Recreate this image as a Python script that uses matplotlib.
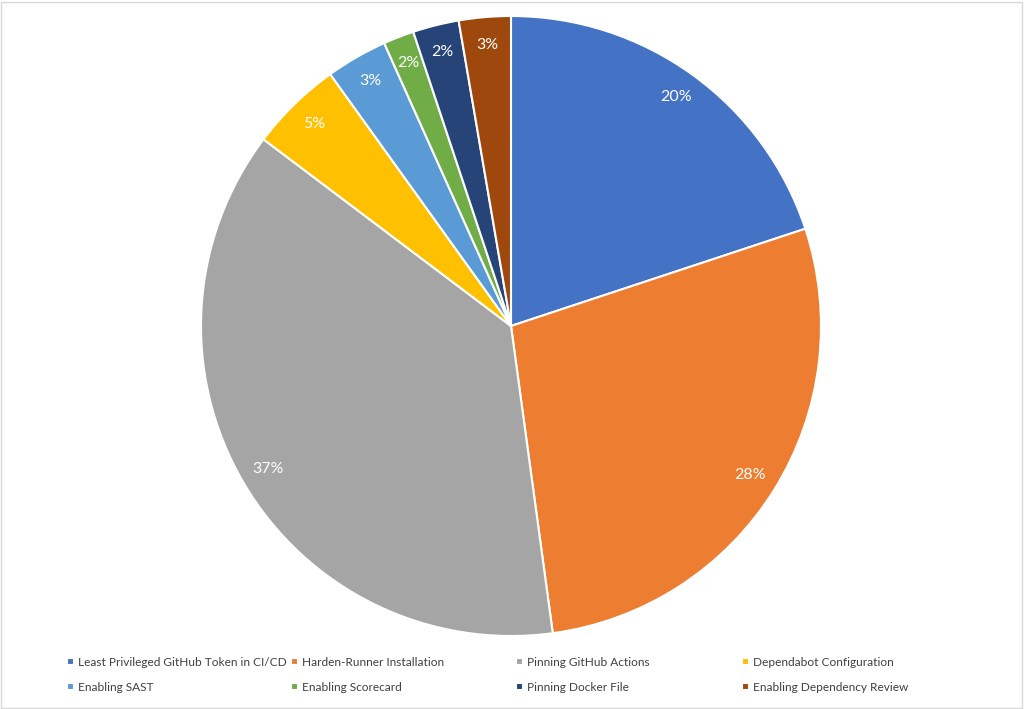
import matplotlib.pyplot as plt
from matplotlib.patches import Rectangle

# Data (share of each fix type)
labels = ['Least Privileged GitHub Token in CI/CD', 'Harden-Runner Installation',
          'Pinning GitHub Actions', 'Dependabot Configuration',
          'Enabling SAST', 'Enabling Scorecard', 'Pinning Docker File',
          'Enabling Dependency Review']
values = [19.9, 27.9, 37.4, 4.8, 3.2, 1.6, 2.4, 2.7]
colors = ['#4472C4', '#ED7D31', '#A5A5A5', '#FFC000',
          '#5B9BD5', '#70AD47', '#264478', '#9E480E']

plt.rcParams['font.family'] = ['Lato', 'DejaVu Sans']

W, H = 1024, 709
fig = plt.figure(figsize=(W / 100, H / 100), dpi=100)
fig.patch.set_facecolor('white')

# pie area: centre (511, 326) px, radius 310 px
cx, cy, r = 511, 326, 310
ax = fig.add_axes([(cx - r) / W, (H - cy - r) / H, 2 * r / W, 2 * r / H])
wedges, texts, autotexts = ax.pie(
    values, colors=colors, startangle=90, counterclock=False,
    autopct='%1.0f%%', pctdistance=0.91,
    wedgeprops=dict(edgecolor='white', linewidth=1.5),
    textprops=dict(color='white', fontsize=11.5))
ax.set_xlim(-1, 1)
ax.set_ylim(-1, 1)
ax.set_aspect('equal')
ax.axis('off')

# legend: 4 equally spaced columns, 2 rows
col_x = [62, 286, 511, 737]
for i in range(4):
    fig.legend([wedges[i], wedges[i + 4]], [labels[i], labels[i + 4]],
               loc='upper left', bbox_to_anchor=(col_x[i] / W, 1 - 652 / H),
               frameon=False, fontsize=8.6, handlelength=0.6, handleheight=0.6,
               handletextpad=0.35, labelspacing=1.15, borderaxespad=0,
               labelcolor='#404040')

# light chart-area border
fig.add_artist(Rectangle((1 / W, 1 / H), (W - 3) / W, (H - 3) / H,
                         transform=fig.transFigure, fill=False,
                         edgecolor='#d9d9d9', linewidth=1))

fig.savefig('out.png', dpi=100)
